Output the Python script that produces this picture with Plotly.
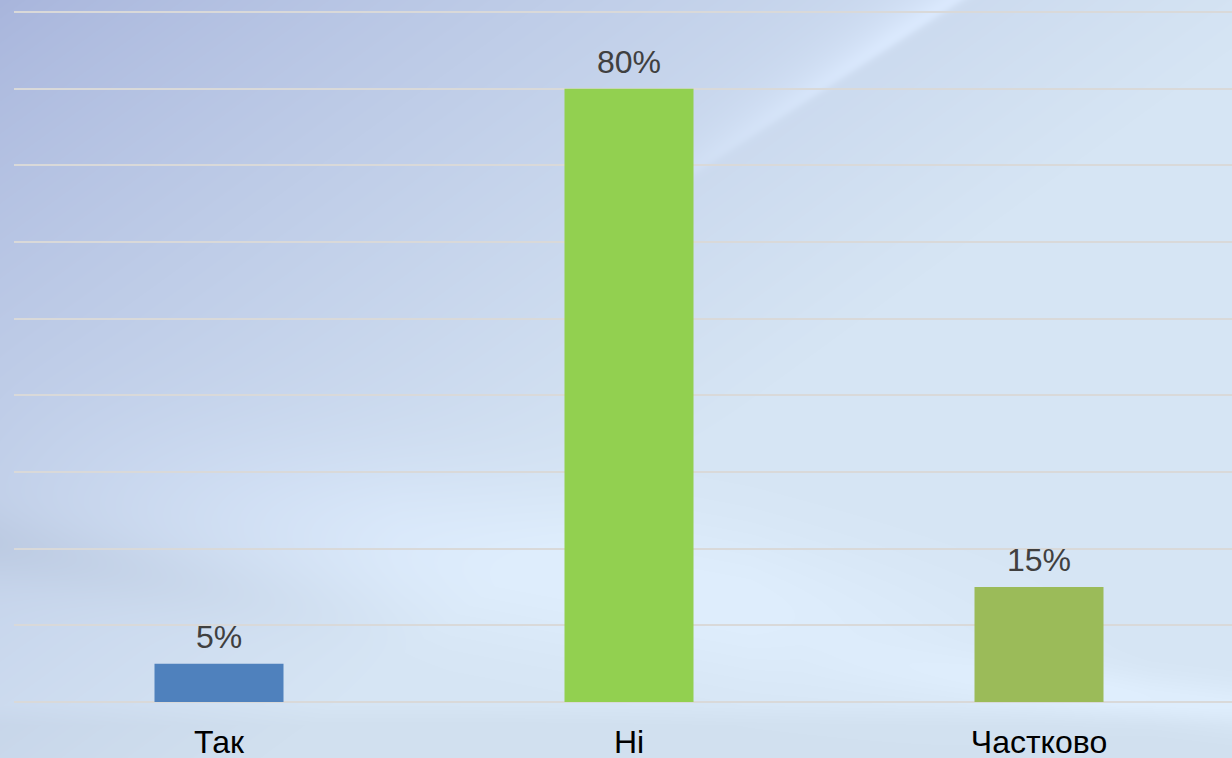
import base64
import struct
import zlib

import numpy as np
import plotly.graph_objects as go

categories = ["Так", "Ні", "Частково"]
values = [5, 80, 15]
bar_colors = ["#4F81BD", "#92D050", "#9BBB59"]

W, H = 1232, 758
M_L, M_R, M_T, M_B = 14, 0, 6, 56
PLOT_W = W - M_L - M_R
PLOT_H = H - M_T - M_B
PX_PER_CAT = 410
PX_PER_UNIT = 690 / 90
FONT = "Arial, Liberation Sans, sans-serif"


def png_uri(rgb):
    h, w, _ = rgb.shape
    raw = b"".join(b"\x00" + rgb[i].tobytes() for i in range(h))

    def chunk(tag, data):
        body = tag + data
        return struct.pack(">I", len(data)) + body + struct.pack(">I", zlib.crc32(body) & 0xFFFFFFFF)

    png = (b"\x89PNG\r\n\x1a\n"
           + chunk(b"IHDR", struct.pack(">IIBBBBB", w, h, 8, 2, 0, 0, 0))
           + chunk(b"IDAT", zlib.compress(raw, 9))
           + chunk(b"IEND", b""))
    return "data:image/png;base64," + base64.b64encode(png).decode()


def backdrop():
    # soft blue slide background with a couple of light swooshes
    y, x = np.mgrid[0:H, 0:W].astype(float)
    u, v = x / W, y / H
    dark = np.array([168, 181, 220], float)
    light = np.array([214, 229, 244], float)
    t = np.clip(0.95 * u + 0.8 * v, 0, 1) ** 0.8
    img = dark + (light - dark) * t[..., None]

    # pale streak rising to the upper right
    d1 = (y - (622 - 0.648 * x)) / np.hypot(1, 0.648)
    edge = 1 / (1 + np.exp(d1 / 2.5))
    sheet = edge * np.exp(np.minimum(d1, 0) / 25) * np.clip((x - 560) / 330, 0, 1) * 20
    img += sheet[..., None]

    # light wedge in the lower middle
    d2 = (y - (505 + 0.19 * x)) / np.hypot(1, 0.19)
    wedge = np.exp(-((d2 + 40) / 80) ** 2) * np.clip(x / 400, 0, 1) * np.clip((1150 - x) / 400, 0, 1)
    img += (wedge * 9)[..., None]
    img -= (np.exp(-((d2 - 40) / 35) ** 2) * np.clip((450 - x) / 450, 0, 1) * 8)[..., None]

    # bottom-right swoosh
    d3 = y - (560 + 0.12 * x)
    img += (np.exp(-(d3 / 25) ** 2) * np.clip((x - 800) / 300, 0, 1) * 9)[..., None]

    # band under the axis
    img -= (np.clip((y - 705) / 20, 0, 1) * 5)[..., None]
    return np.clip(img, 0, 255).astype(np.uint8)


fig = go.Figure()
fig.add_trace(go.Bar(
    x=categories, y=values, marker={"color": bar_colors, "line": {"width": 0}},
    width=129 / PX_PER_CAT, hoverinfo="skip",
))

for cat, val in zip(categories, values):
    fig.add_annotation(
        x=cat, y=val, text=f"{val}%", showarrow=False, yanchor="bottom", yshift=7,
        font={"family": FONT, "size": 32, "color": "#404040"},
    )

fig.add_layout_image(
    source=png_uri(backdrop()), xref="paper", yref="paper",
    x=-M_L / PLOT_W, y=1 + M_T / PLOT_H, sizex=W / PLOT_W, sizey=H / PLOT_H,
    xanchor="left", yanchor="top", sizing="stretch", layer="below",
)

fig.update_layout(
    width=W, height=H,
    paper_bgcolor="#D3E1F1", plot_bgcolor="rgba(0,0,0,0)",
    margin={"l": M_L, "r": M_R, "t": M_T, "b": M_B, "autoexpand": False},
    font={"family": FONT, "color": "#000000"},
    showlegend=False,
    xaxis={
        "range": [-0.5, -0.5 + PLOT_W / PX_PER_CAT], "showgrid": False, "showline": False,
        "automargin": False, "ticks": "outside", "ticklen": 12, "tickcolor": "rgba(0,0,0,0)",
        "tickfont": {"size": 32, "color": "#000000", "family": FONT},
    },
    yaxis={
        "range": [0, PLOT_H / PX_PER_UNIT], "dtick": 10, "showticklabels": False,
        "automargin": False, "gridcolor": "#D9D9D9", "gridwidth": 1.5,
        "zeroline": True, "zerolinecolor": "#D9D9D9", "zerolinewidth": 1.5,
    },
)

fig.write_html(
    "out.html", config={"displayModeBar": False},
    post_script="document.body.style.margin = '0';",
)
